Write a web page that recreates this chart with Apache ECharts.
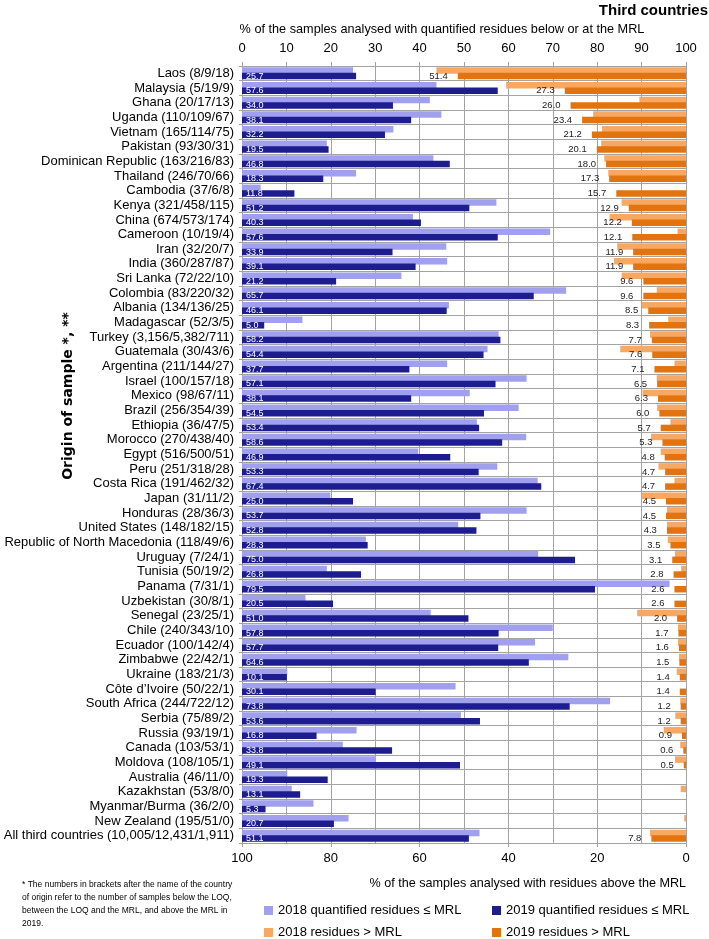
<!DOCTYPE html>
<html>
<head>
<meta charset="utf-8">
<script src="https://cdn.jsdelivr.net/npm/echarts@6/dist/echarts.min.js"></script>
<style>
html,body{margin:0;padding:0;background:#fff;}
#chart{width:709px;height:939px;}
</style>
</head>
<body>
<div id="chart"></div>
<script>
var categories = [
  "Laos (8/9/18)","Malaysia (5/19/9)","Ghana (20/17/13)","Uganda (110/109/67)","Vietnam (165/114/75)",
  "Pakistan (93/30/31)","Dominican Republic (163/216/83)","Thailand (246/70/66)","Cambodia (37/6/8)",
  "Kenya (321/458/115)","China (674/573/174)","Cameroon (10/19/4)","Iran (32/20/7)","India (360/287/87)",
  "Sri Lanka (72/22/10)","Colombia (83/220/32)","Albania (134/136/25)","Madagascar (52/3/5)",
  "Turkey (3,156/5,382/711)","Guatemala (30/43/6)","Argentina (211/144/27)","Israel (100/157/18)",
  "Mexico (98/67/11)","Brazil (256/354/39)","Ethiopia (36/47/5)","Morocco (270/438/40)","Egypt (516/500/51)",
  "Peru (251/318/28)","Costa Rica (191/462/32)","Japan (31/11/2)","Honduras (28/36/3)",
  "United States (148/182/15)","Republic of North Macedonia (118/49/6)","Uruguay (7/24/1)","Tunisia (50/19/2)",
  "Panama (7/31/1)","Uzbekistan (30/8/1)","Senegal (23/25/1)","Chile (240/343/10)","Ecuador (100/142/4)",
  "Zimbabwe (22/42/1)","Ukraine (183/21/3)","C\u00f4te d\u2019Ivoire (50/22/1)","South Africa (244/722/12)",
  "Serbia (75/89/2)","Russia (93/19/1)","Canada (103/53/1)","Moldova (108/105/1)","Australia (46/11/0)",
  "Kazakhstan (53/8/0)","Myanmar/Burma (36/2/0)","New Zealand (195/51/0)","All third countries (10,005/12,431/1,911)"
];

var quantified2018 = [
  25.0,43.8,42.3,44.9,34.1,19.1,43.1,25.7,4.2,57.3,38.5,69.4,46.0,46.2,35.9,73.0,46.6,13.6,57.8,55.3,
  46.2,64.1,51.3,62.3,52.9,64.0,39.7,57.5,66.6,19.9,64.1,48.7,27.9,66.7,19.1,96.3,14.3,42.5,70.0,66.0,
  73.5,10.2,48.1,82.9,49.3,25.8,22.7,30.1,10.2,11.2,16.1,24.0,53.5
];
var quantified2019 = [
  25.7,57.6,34.0,38.1,32.2,19.5,46.8,18.3,11.8,51.2,40.3,57.6,33.9,39.1,21.2,65.7,46.1,5.0,58.2,54.4,
  37.7,57.1,38.1,54.5,53.4,58.6,46.9,53.3,67.4,25.0,53.7,52.8,28.3,75.0,26.8,79.5,20.5,51.0,57.8,57.7,
  64.6,10.1,30.1,73.8,53.6,16.8,33.8,49.1,19.3,13.1,5.3,20.7,51.1
];
var aboveMRL2018 = [
  56.2,40.5,10.5,20.9,18.9,19.1,18.4,17.5,0,14.5,17.2,1.9,15.5,16.2,14.5,6.6,9.9,4.0,8.1,14.8,
  2.6,6.6,9.8,6.5,3.5,7.9,5.7,6.2,2.6,10.0,4.3,4.3,4.1,2.5,1.1,0,0,11.0,1.8,1.8,
  1.6,2.1,0,1.3,2.4,5.0,1.3,2.5,0,1.2,0,0.4,8.1
];
var aboveMRL2019 = [
  51.4,27.3,26.0,23.4,21.2,20.1,18.0,17.3,15.7,12.9,12.2,12.1,11.9,11.9,9.6,9.6,8.5,8.3,7.7,7.6,
  7.1,6.5,6.3,6.0,5.7,5.3,4.8,4.7,4.7,4.5,4.5,4.3,3.5,3.1,2.8,2.6,2.6,2.0,1.7,1.6,
  1.5,1.4,1.4,1.2,1.2,0.9,0.6,0.5,0,0,0,0,7.8
];
var topTicks = [0,10,20,30,40,50,60,70,80,90,100];
var bottomTicks = [100,80,60,40,20,0];

var C_LB = '#a0a0ee', C_DB = '#1d1d8f', C_LO = '#f7a863', C_DO = '#e3730e';
var GRID = '#a3a3a3';
var FONT = 'Liberation Sans, Arial, sans-serif';

var chart = echarts.init(document.getElementById('chart'), null, {renderer:'canvas'});
var barW = 6.5, gap = '-15%';
var legText = {fontSize:13, color:'#000', fontFamily:FONT};

var option = {
  animation: false,
  backgroundColor: '#fff',
  textStyle: {fontFamily: FONT},
  grid: {left: 242, right: 23, top: 66, bottom: 96, containLabel: false},
  xAxis: [
    {type:'value', position:'top', min:0, max:100, interval:10,
     axisLine:{show:true, lineStyle:{color:GRID}},
     axisTick:{show:true, length:4, lineStyle:{color:GRID}},
     axisLabel:{color:'#000', fontSize:13, margin:11, fontFamily:FONT,
       formatter:function(v){ return topTicks.indexOf(v)>=0 ? String(v) : ''; }},
     splitLine:{show:true, lineStyle:{color:GRID, width:1}}},
    {type:'value', position:'bottom', min:0, max:100, interval:20, inverse:true,
     axisLine:{show:true, lineStyle:{color:GRID}},
     axisTick:{show:true, length:4, lineStyle:{color:GRID}},
     axisLabel:{color:'#000', fontSize:13, margin:9, fontFamily:FONT,
       formatter:function(v){ return bottomTicks.indexOf(v)>=0 ? String(v) : ''; }},
     splitLine:{show:false}}
  ],
  yAxis: [
    {type:'category', inverse:true, data:categories,
     axisLine:{show:true, lineStyle:{color:GRID}},
     axisTick:{show:true, length:3, lineStyle:{color:GRID}},
     axisLabel:{color:'#000', fontSize:13, margin:8, fontFamily:FONT, interval:0},
     splitLine:{show:true, lineStyle:{color:GRID, width:1.2}}},
    {type:'category', inverse:true, data:categories, show:false}
  ],
  legend: [
    {left:259, top:899, itemWidth:9, itemHeight:9, itemGap:4, icon:'rect', selectedMode:false, data:['2018 quantified residues \u2264 MRL'], textStyle:legText},
    {left:487, top:899, itemWidth:9, itemHeight:9, icon:'rect', selectedMode:false, data:['2019 quantified residues \u2264 MRL'], textStyle:legText},
    {left:259, top:921, itemWidth:9, itemHeight:9, icon:'rect', selectedMode:false, data:['2018 residues > MRL'], textStyle:legText},
    {left:487, top:921, itemWidth:9, itemHeight:9, icon:'rect', selectedMode:false, data:['2019 residues > MRL'], textStyle:legText}
  ],
  graphic: [
    {type:'text', right:1, top:3, style:{text:'Third countries', font:'bold 15px '+FONT, fill:'#000'}},
    {type:'text', x:442, y:29, style:{text:'% of the samples analysed with quantified residues below or at the MRL', font:'12.7px '+FONT, fill:'#000', textAlign:'center', textVerticalAlign:'middle'}},
    {type:'text', x:686, y:884, style:{text:'% of the samples analysed with residues above the MRL', font:'12.6px '+FONT, fill:'#000', textAlign:'right', textVerticalAlign:'middle'}},
    {type:'text', x:68, y:396, rotation:Math.PI/2, style:{text:'Origin of sample *, **', font:'bold 14px DejaVu Sans, sans-serif', fill:'#000', textAlign:'center', textVerticalAlign:'middle'}},
    {type:'text', left:22, top:878, style:{text:'* The numbers in brackets after the name of the country\nof origin refer to the number of samples below the LOQ,\nbetween the LOQ and the MRL, and above the MRL in\n2019.', font:'8.5px '+FONT, fill:'#000', lineHeight:13}}
  ],
  series: [
    {name:'2018 quantified residues \u2264 MRL', type:'bar', xAxisIndex:0, yAxisIndex:0, data:quantified2018,
     barWidth:barW, barGap:gap, itemStyle:{color:C_LB}},
    {name:'2019 quantified residues \u2264 MRL', type:'bar', xAxisIndex:0, yAxisIndex:0, data:quantified2019,
     barWidth:barW, barGap:gap, itemStyle:{color:C_DB},
     label:{show:true, position:'insideLeft', distance:4, color:'#fff', fontSize:9, fontFamily:'Liberation Sans Narrow, '+FONT,
       formatter:function(p){ return p.value.toFixed(1); }}},
    {name:'2018 residues > MRL', type:'bar', xAxisIndex:1, yAxisIndex:1, data:aboveMRL2018,
     barWidth:barW, barGap:gap, itemStyle:{color:C_LO}},
    {name:'2019 residues > MRL', type:'bar', xAxisIndex:1, yAxisIndex:1, data:aboveMRL2019,
     barWidth:barW, barGap:gap, itemStyle:{color:C_DO},
     label:{show:true, position:'left', distance:10, color:'#222', fontSize:9.5, fontFamily:'Liberation Sans Narrow, '+FONT,
       formatter:function(p){ return p.value > 0 ? p.value.toFixed(1) : ''; }}}
  ]
};
chart.setOption(option);
</script>
</body>
</html>
